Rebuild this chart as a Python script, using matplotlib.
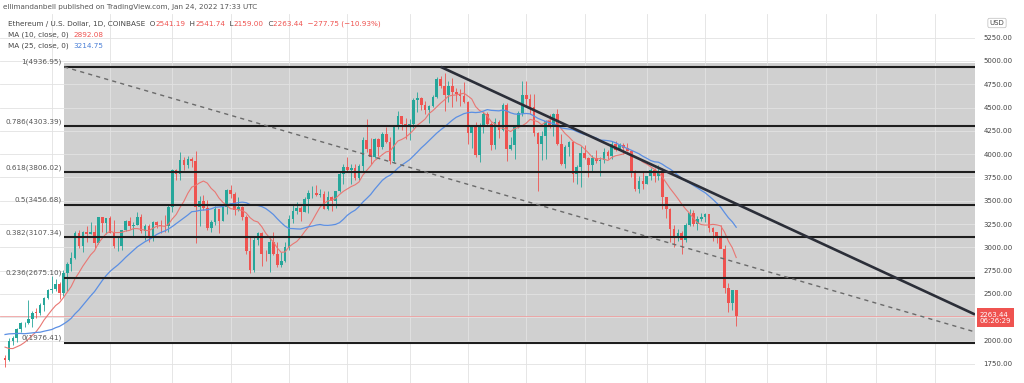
import numpy as np
import pandas as pd
import matplotlib
matplotlib.use('Agg')
import matplotlib.pyplot as plt
from matplotlib.patches import Rectangle
from matplotlib.offsetbox import TextArea, HPacker, AnchoredOffsetbox
import matplotlib.transforms as mtransforms

# ETH/USD daily candles, 2021-07-20 .. 2022-01-24
start_date = '2021-07-20'
opens = [1816, 1787, 1995, 2025, 2124, 2189, 2191, 2233, 2300, 2298, 2380, 2462,
         2540, 2557, 2608, 2507, 2725, 2827, 2890, 3157, 3012, 3163, 3142, 3164, 3045, 3322, 3265, 3310,
         3150, 3012, 3017, 3183, 3287, 3226, 3243, 3323, 3173, 3225, 3101, 3270, 3245, 3228, 3225,
         3433, 3834, 3788, 3941, 3888, 3953, 3928, 3430, 3497, 3427, 3212, 3269, 3407, 3287, 3429,
         3614, 3573, 3398, 3432, 3329, 2958, 2761, 3077, 3155, 2931, 2926, 3063, 2934, 2807, 2853,
         3001, 3307, 3391, 3418, 3380, 3518, 3581, 3587, 3563, 3575, 3415, 3545, 3493, 3606, 3788,
         3865, 3830, 3847, 3748, 3877, 4155, 4055, 3972, 4168, 4082, 4217, 4131, 3930, 4287, 4414, 4325,
         4288, 4324, 4586, 4604, 4531, 4476, 4518, 4611, 4808, 4734, 4637, 4730, 4665, 4645, 4627,
         4565, 4224, 4288, 3992, 4312, 4435, 4327, 4095, 4343, 4255, 4524, 4052, 4094, 4296, 4445,
         4631, 4587, 4510, 4230, 4112, 4192, 4356, 4305, 4429, 4111, 3896, 4077, 4130, 3784, 3859,
         4010, 3961, 3885, 3960, 3926, 3936, 4020, 3981, 4109, 4047, 4096, 4063, 4035, 3794, 3629, 3713,
         3683, 3765, 3829, 3762, 3795, 3540, 3415, 3195, 3096, 3158, 3084, 3240, 3374, 3248, 3309,
         3330, 3355, 3212, 3164, 3096, 2986, 2561, 2405, 2541.19]
highs = [1850, 2025, 2045, 2130, 2197, 2199, 2440, 2316, 2345, 2398, 2469, 2550,
         2698, 2665, 2630, 2760, 2840, 2948, 3175, 3185, 3180, 3230, 3275, 3240, 3330, 3330, 3320,
         3335, 3295, 3125, 3190, 3295, 3330, 3270, 3375, 3358, 3250, 3250, 3280, 3285, 3290, 3345, 3465,
         3840, 3842, 4025, 3968, 3985, 3970, 4030, 3548, 3560, 3508, 3295, 3440, 3410, 3445, 3630,
         3670, 3590, 3545, 3442, 3350, 3110, 3110, 3170, 3170, 2975, 3110, 3160, 3060, 2950, 3055,
         3350, 3470, 3490, 3440, 3540, 3615, 3655, 3670, 3625, 3610, 3605, 3550, 3610, 3815,
         3895, 3970, 3895, 3895, 3890, 4185, 4375, 4175, 4175, 4175, 4240, 4295, 4185, 4300, 4460,
         4415, 4385, 4380, 4600, 4665, 4610, 4575, 4525, 4635, 4825, 4838, 4870, 4780, 4812, 4710,
         4695, 4770, 4570, 4300, 4340, 4335, 4450, 4455, 4345, 4385, 4370, 4550, 4550, 4180, 4300,
         4465, 4780, 4780, 4645, 4650, 4240, 4250, 4365, 4435, 4440, 4480, 4220, 4100, 4140, 4135,
         3880, 4085, 4100, 3975, 3990, 4045, 3965, 4065, 4045, 4140, 4145, 4125, 4125, 4125, 4040,
         3825, 3765, 3810, 3770, 3855, 3855, 3880, 3850, 3545, 3420, 3235, 3200, 3180, 3265, 3410,
         3400, 3335, 3370, 3372, 3360, 3215, 3170, 3240, 3030, 2620, 2545, 2541.74]
lows = [1718, 1780, 1953, 1990, 2096, 2143, 2180, 2150, 2245, 2276, 2313, 2443,
        2515, 2530, 2450, 2480, 2530, 2752, 2880, 2990, 2950, 3060, 3140, 2990, 3035, 3170, 3140,
        3150, 2995, 2960, 2975, 3175, 3200, 3122, 3240, 3150, 3075, 3060, 3065, 3205, 3150, 3160, 3162,
        3385, 3725, 3722, 3835, 3850, 3862, 3050, 3225, 3400, 3190, 3160, 3245, 3150, 3280, 3358,
        3535, 3350, 3392, 3295, 2930, 2720, 2740, 3030, 2800, 2850, 2740, 2920, 2790, 2790, 2840,
        2975, 3266, 3360, 3285, 3375, 3365, 3525, 3550, 3540, 3410, 3400, 3390, 3425, 3590,
        3685, 3815, 3685, 3720, 3720, 3820, 4020, 3900, 3955, 3980, 4060, 4120, 3900, 3905, 4270,
        4255, 4160, 4155, 4285, 4450, 4475, 4430, 4330, 4510, 4605, 4715, 4460, 4565, 4510, 4570,
        4520, 4545, 4105, 4065, 3970, 3920, 4225, 4310, 4050, 4060, 4175, 4245, 3930, 4040, 3950,
        4285, 4415, 4530, 4430, 4200, 3600, 3940, 3950, 4280, 4200, 4100, 3880, 3850, 3980, 3700,
        3680, 3650, 3950, 3750, 3820, 3910, 3765, 3910, 3950, 3950, 4035, 4040, 4000, 4035, 3755,
        3610, 3585, 3625, 3680, 3720, 3700, 3725, 3410, 3320, 3060, 3000, 3070, 2930, 3060, 3225,
        3230, 3185, 3285, 3270, 3170, 3065, 3050, 2990, 2510, 2305, 2330, 2159]
closes = [1787, 1995, 2025, 2124, 2189, 2191, 2233, 2300, 2298, 2380, 2462, 2540,
          2557, 2608, 2507, 2725, 2827, 2890, 3157, 3012, 3163, 3142, 3164, 3045, 3322, 3265, 3310,
          3150, 3012, 3017, 3183, 3287, 3226, 3243, 3323, 3173, 3225, 3101, 3270, 3245, 3228, 3225, 3433,
          3834, 3788, 3941, 3888, 3953, 3928, 3430, 3497, 3427, 3212, 3269, 3407, 3287, 3429, 3614,
          3573, 3398, 3432, 3329, 2958, 2761, 3077, 3155, 2931, 2926, 3063, 2934, 2807, 2853, 3001,
          3307, 3391, 3418, 3380, 3518, 3581, 3587, 3563, 3575, 3415, 3545, 3493, 3606, 3788,
          3865, 3830, 3847, 3748, 3877, 4155, 4055, 3972, 4168, 4082, 4217, 4131, 3930, 4287, 4414,
          4325, 4288, 4324, 4586, 4604, 4531, 4476, 4518, 4611, 4808, 4734, 4637, 4730, 4665, 4645,
          4627, 4565, 4224, 4288, 3992, 4312, 4435, 4327, 4095, 4343, 4255, 4524, 4052, 4094, 4296,
          4445, 4631, 4587, 4510, 4230, 4112, 4192, 4356, 4305, 4429, 4111, 3896, 4077, 4130, 3784,
          3859, 4010, 3961, 3885, 3960, 3926, 3936, 4020, 3981, 4109, 4047, 4096, 4063, 4035, 3794,
          3629, 3713, 3683, 3765, 3829, 3762, 3795, 3540, 3415, 3195, 3096, 3158, 3084, 3240, 3374,
          3248, 3309, 3330, 3355, 3212, 3164, 3096, 2986, 2561, 2405, 2541, 2263.44]
# closes before the window, needed for the moving averages (2021-06-26 .. 07-19)
pre_closes = [1825, 1970, 2080, 2166, 2275, 2109, 2150, 2226, 2322, 2197, 2324, 2316,
              2114, 2147, 2111, 2139, 2037, 1940, 1995, 1912, 1879, 1897, 1896, 1817]

fib_ratios = [1, 0.786, 0.618, 0.5, 0.382, 0.236, 0]
fib_prices = [4936.95, 4303.39, 3806.02, 3456.68, 3107.34, 2675.10, 1976.41]
y_ticks = [1750, 2000, 2250, 2500, 2750, 3000, 3250, 3500, 3750, 4000, 4250, 4500, 4750, 5000, 5250]
hidden_tick = 2250  # covered by the last-price label

# drawing positions in bar-index units
fib_start = 15.2
fib_end = 259
trend_pts = ([112, 249.4], [4936.95, 2280])

GREEN = '#26a69a'
RED = '#ef5350'
W, H = 1024, 383

fig = plt.figure(figsize=(W / 100, H / 100), dpi=100)
fig.patch.set_facecolor('white')
ax = fig.add_axes([0, 0, 975 / W, 1 - 14 / H])
ax.set_facecolor('white')

n = len(closes)
x = np.arange(n)
o = np.array(opens, dtype=float)
h = np.array(highs, dtype=float)
l = np.array(lows, dtype=float)
c = np.array(closes, dtype=float)

xmin, xmax = -1.3, 249.4
ax.set_xlim(xmin, xmax)
ax.set_ylim(1545, 5504)

# grid
dates = pd.date_range(start_date, periods=int(xmax) + 2)
grid_x = [i for i, d in enumerate(dates) if d.day in (1, 16)]
for gx in grid_x:
    ax.axvline(gx, color='#e2e2e2', lw=0.6, zorder=1.5)
for t in y_ticks:
    ax.axhline(t, color='#e2e2e2', lw=0.6, zorder=1.5)

# fib background, levels and labels
ax.add_patch(Rectangle((fib_start, fib_prices[-1]), xmax - fib_start + 5, 3000,
                       facecolor='#d0d0d0', edgecolor='none', zorder=1))
ax.hlines(fib_prices, fib_start, xmax + 5, colors='#1e1e1e', lw=1.5, zorder=5)
for r, p in zip(fib_ratios, fib_prices):
    ax.text(fib_start - 0.6, p + 15, f'{r:g}({p:.2f})', ha='right', va='bottom',
            fontsize=5.2, color='#555555', zorder=6)

# fib diagonal + trend line
ax.plot([fib_start, fib_end], [fib_prices[0], fib_prices[-1]], color='#6a6a6a',
        lw=1.0, dashes=(3, 3), zorder=5)
ax.plot(trend_pts[0], trend_pts[1], color='#2b2e38', lw=1.9, zorder=5,
        solid_capstyle='butt')

# last price line
ax.axhline(closes[-1], color='#f0a0a0', lw=0.6, zorder=2)

# candles
cols = np.where(c >= o, GREEN, RED)
ax.vlines(x, l, h, colors=cols, lw=0.6, zorder=3)
ax.bar(x, np.maximum(np.abs(c - o), 4), bottom=np.minimum(o, c), width=0.68,
       color=cols, edgecolor='none', zorder=3)

# moving averages
s = pd.Series(pre_closes + closes)
ma10 = s.rolling(10).mean().to_numpy()[len(pre_closes):]
ma25 = s.rolling(25).mean().to_numpy()[len(pre_closes):]
ax.plot(x, ma10, color='#e97773', lw=0.8, zorder=4)
ax.plot(x, ma25, color='#5b8fe3', lw=0.9, zorder=4)

# axes styling
for sp in ax.spines.values():
    sp.set_visible(False)
ax.set_xticks([])
ax.yaxis.tick_right()
ax.set_yticks(y_ticks)
ax.set_yticklabels(['' if t == hidden_tick else f'{t:.2f}' for t in y_ticks])
ax.tick_params(axis='y', length=0, pad=6, labelsize=5, labelcolor='#444444')

# price label box on the axis
trans = mtransforms.blended_transform_factory(ax.transAxes, ax.transData)
ax.text(1.005, closes[-1] - 20, f'{closes[-1]:.2f}\n06:26:29', transform=trans,
        ha='left', va='center', fontsize=5, color='white', linespacing=1.15,
        bbox=dict(boxstyle='square,pad=0.45', facecolor=RED, edgecolor='none'),
        clip_on=False, zorder=10)
fig.text(997 / W, 1 - 23 / H, 'USD', ha='center', va='center', fontsize=5, color='#444444',
         bbox=dict(boxstyle='round,pad=0.25', facecolor='white', edgecolor='#bbbbbb', lw=0.5))

# header and legend
fig.text(3 / W, 1 - 7 / H, 'ellimandanbell published on TradingView.com, Jan 24, 2022 17:33 UTC',
         ha='left', va='center', fontsize=5.2, color='#555555')


def legend_row(parts, ypx):
    areas = [TextArea(t, textprops=dict(color=col, fontsize=5.2)) for t, col in parts]
    box = HPacker(children=areas, align='baseline', pad=0, sep=0)
    anch = AnchoredOffsetbox(loc='center left', child=box, pad=0, borderpad=0, frameon=False,
                             bbox_to_anchor=(8 / W, 1 - ypx / H), bbox_transform=fig.transFigure)
    fig.add_artist(anch)


DARK = '#444444'
legend_row([('Ethereum / U.S. Dollar, 1D, COINBASE  O', DARK), ('2541.19', RED), ('  H', DARK),
            ('2541.74', RED), ('  L', DARK), ('2159.00', RED), ('  C', DARK),
            ('2263.44  \u2212277.75 (\u221210.93%)', RED)], 24)
legend_row([('MA (10, close, 0)  ', DARK), ('2892.08', RED)], 35)
legend_row([('MA (25, close, 0)  ', DARK), ('3214.75', '#4a7fd6')], 46)

fig.savefig('out.png', dpi=100, facecolor='white')
